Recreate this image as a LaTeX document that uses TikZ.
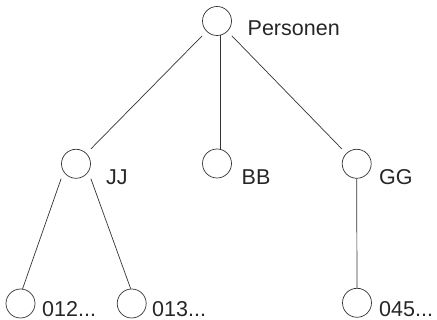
\documentclass[tikz,border=0pt]{standalone}
\usepackage{fontspec}
\setmainfont{Liberation Sans}
\begin{document}
\begin{tikzpicture}[x=1pt,y=-1pt,
  nd/.style={circle, draw=black!80, line width=0.7pt, minimum size=29pt, inner sep=0pt},
  lbl/.style={anchor=base west, inner sep=0pt, text depth=0pt, font=\fontsize{21.5}{25}\selectfont, text=black!85},
  conn/.style={draw=black!80, line width=0.7pt}]
\useasboundingbox (0,0) rectangle (437,320);
% circles
\node[nd] (root) at (217,21) {};
\node[nd] (jj) at (76,163.8) {};
\node[nd] (bb) at (217,163.5) {};
\node[nd] (gg) at (356.7,163.8) {};
\node[nd] (n012) at (20.5,303.5) {};
\node[nd] (n013) at (131.7,303.5) {};
\node[nd] (n045) at (357,302.8) {};
% labels
\node[lbl] (lroot) at (247.5,36) {Personen};
\node[lbl] (ljj) at (106,185) {JJ};
\node[lbl] (lbb) at (241.5,184.5) {BB};
\node[lbl] (lgg) at (379,184.5) {GG};
\node[lbl] (l012) at (42,316.3) {012...};
\node[lbl] (l013) at (152,316.3) {013...};
\node[lbl] (l045) at (379,316.8) {045...};
% connectors
\draw[conn] (root.west |- root.south) -- (jj.east |- jj.north);
\draw[conn] (root.-76) -- (bb.76);
\draw[conn] (root.east |- root.south) -- (gg.west |- gg.north);
\draw[conn] (jj.west |- jj.south) -- (n012.82);
\draw[conn] (jj.east |- jj.south) -- (n013.94);
\draw[conn] (gg.south) -- (n045.north);
\end{tikzpicture}
\end{document}
